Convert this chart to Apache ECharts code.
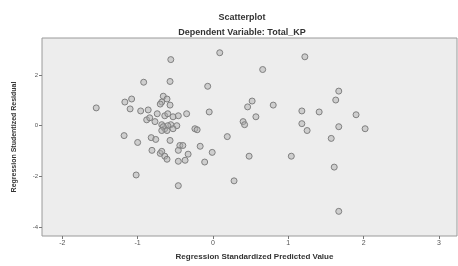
<!DOCTYPE html>
<html>
<head>
<meta charset="utf-8">
<script src="https://cdn.jsdelivr.net/npm/echarts@6/dist/echarts.min.js"></script>
<style>html,body{margin:0;padding:0;background:#fff}#c{width:458px;height:266px}</style>
</head>
<body>
<div id="c"></div>
<script>
const xTicks = [-2, -1, 0, 1, 2, 3];
const yTicks = [-4, -2, 0, 2];
const predicted = [-1.55,-1.18,-1.17,-1.08,-1.10,-0.92,-1.00,-0.96,-0.86,-0.88,-0.84,-0.77,-0.82,-0.76,-0.81,-0.74,-0.66,-0.68,-0.61,-0.70,-0.57,-0.56,-0.57,-0.68,-0.64,-0.70,-0.68,-0.64,-0.61,-0.57,-0.56,-0.60,-0.53,-0.64,-0.60,-0.48,-0.46,-0.66,-0.68,-0.61,-0.53,-0.44,-0.40,-0.46,-0.46,-0.46,-0.37,-0.35,-0.33,-0.24,-0.21,-0.17,-0.11,-0.07,-0.05,-0.01,0.09,0.19,0.28,0.40,0.42,0.46,0.52,0.48,0.57,0.66,0.80,1.04,1.18,1.18,1.22,1.25,1.41,1.57,1.61,1.63,1.67,1.67,1.67,1.90,2.02,-1.02];
const residual = [0.70,-0.39,0.93,1.05,0.66,1.71,-0.66,0.58,0.62,0.23,0.31,0.16,-0.47,-0.54,-0.97,0.47,1.16,0.93,1.05,0.85,0.81,2.60,1.74,0.04,-0.12,-1.09,-1.01,-1.20,-1.32,-0.58,0.04,0.00,0.35,0.39,0.47,0.00,0.39,-0.04,-0.19,-0.19,-0.12,-0.78,-0.78,-0.97,-2.36,-1.40,-1.36,0.47,-1.12,-0.12,-0.16,-0.81,-1.43,1.55,0.54,-1.05,2.87,-0.43,-2.17,0.16,0.04,0.74,0.97,-1.20,0.35,2.21,0.81,-1.20,0.58,0.08,2.71,-0.19,0.54,-0.50,-1.63,1.01,1.36,-0.04,-3.37,0.43,-0.12,-1.94];
const points = predicted.map((x, i) => [x, residual[i]]);

const chart = echarts.init(document.getElementById('c'));
const font = 'Liberation Sans, Arial, sans-serif';
chart.setOption({
  backgroundColor: '#ffffff',
  animation: false,
  title: {
    text: 'Scatterplot',
    subtext: 'Dependent Variable: Total_KP',
    left: 237, top: 8, textAlign: 'center', itemGap: 6,
    textStyle: {fontFamily: font, fontSize: 9, fontWeight: 'bold', color: '#333'},
    subtextStyle: {fontFamily: font, fontSize: 9, fontWeight: 'bold', color: '#333'}
  },
  grid: {left: 42, right: 1, top: 38, bottom: 27, show: true, backgroundColor: '#ededed', borderColor: '#9a9a9a', borderWidth: 1},
  xAxis: {
    type: 'value', min: -2.27, max: 3.24,
    name: 'Regression Standardized Predicted Value', nameLocation: 'middle', nameGap: 17,
    nameTextStyle: {fontFamily: font, fontSize: 8, fontWeight: 'bold', color: '#333', padding: [0, 0, 0, 10]},
    axisLine: {show: false, onZero: false},
    splitLine: {show: false},
    axisTick: {show: true, length: 3, customValues: xTicks, lineStyle: {color: '#777'}},
    axisLabel: {customValues: xTicks, fontFamily: font, fontSize: 7, color: '#555', margin: 4}
  },
  yAxis: {
    type: 'value', min: -4.34, max: 3.45,
    name: 'Regression Studentized Residual', nameLocation: 'middle', nameGap: 24,
    nameTextStyle: {fontFamily: font, fontSize: 7, fontWeight: 'bold', color: '#333'},
    axisLine: {show: false, onZero: false},
    splitLine: {show: false},
    axisTick: {show: true, length: 3, customValues: yTicks, lineStyle: {color: '#777'}},
    axisLabel: {customValues: yTicks, fontFamily: font, fontSize: 6, color: '#555', margin: 4}
  },
  series: [{
    type: 'scatter',
    data: points,
    symbol: 'circle',
    symbolSize: 6,
    itemStyle: {color: 'rgba(175,175,175,0.5)', borderColor: '#808080', borderWidth: 1, opacity: 1}
  }]
});
</script>
</body>
</html>
